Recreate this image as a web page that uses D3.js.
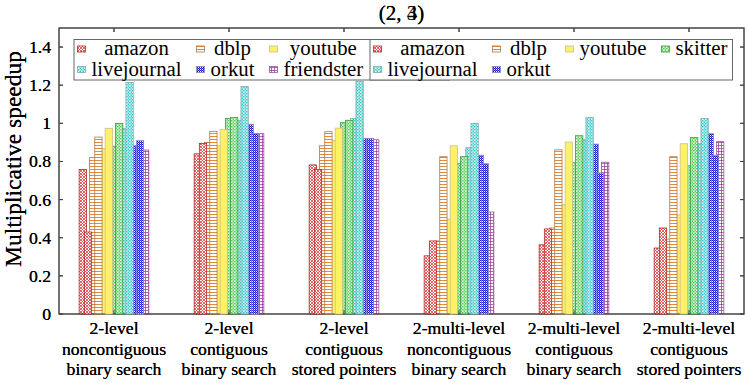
<html>
<head>
<meta charset="UTF-8" />
</head>
<body style="margin:0;background:#fff">
<script src="https://cdn.jsdelivr.net/npm/d3@7"></script>
<script>
var width = 747;
var height = 383;

// categories (one entry per group, split in lines)
var categories = [
	["2-level", "noncontiguous", "binary search"],
	["2-level", "contiguous", "binary search"],
	["2-level", "contiguous", "stored pointers"],
	["2-multi-level", "noncontiguous", "binary search"],
	["2-multi-level", "contiguous", "binary search"],
	["2-multi-level", "contiguous", "stored pointers"]
];
var yTicks = [0, 0.2, 0.4, 0.6, 0.8, 1, 1.2, 1.4];

// plot (2, 3)
var namesA = ["amazon", "dblp", "youtube", "skitter", "livejournal", "orkut", "friendster"];
var amazonA      = [0.758, 0.840, 0.782, 0.305, 0.363, 0.346];
var dblpA        = [0.820, 0.900, 0.882, 0.383, 0.451, 0.393];
var youtubeA     = [0.867, 0.882, 0.910, 0.497, 0.575, 0.519];
var skitterA     = [0.880, 1.025, 1.003, 0.788, 0.793, 0.777];
var livejournalA = [0.974, 1.016, 1.025, 0.872, 0.914, 0.893];
var orkutA       = [0.884, 0.995, 0.921, 0.833, 0.891, 0.946];
var friendsterA  = [0.860, 0.946, 0.914, 0.535, 0.796, 0.904];

// plot (2, 4)
var namesB = ["amazon", "dblp", "youtube", "skitter", "livejournal", "orkut"];
var amazonB      = [0.430, 0.895, 0.758, 0.383, 0.446, 0.451];
var dblpB        = [0.928, 0.958, 0.956, 0.825, 0.861, 0.825];
var youtubeB     = [0.974, 0.967, 0.975, 0.882, 0.902, 0.893];
var skitterB     = [1.000, 1.030, 1.016, 0.825, 0.935, 0.925];
var livejournalB = [1.214, 1.193, 1.221, 1.000, 1.030, 1.025];
var orkutB       = [0.909, 0.947, 0.921, 0.788, 0.740, 0.832];

var valuesA = [amazonA, dblpA, youtubeA, skitterA, livejournalA, orkutA, friendsterA];
var valuesB = [amazonB, dblpB, youtubeB, skitterB, livejournalB, orkutB];

// look of each data set
var styles = {
	amazon:      {pat: "cross",  color: "#e03c3c", edge: "#b02a2a"},
	dblp:        {pat: "hlines", color: "#e08a3a", edge: "#b8753c"},
	youtube:     {pat: "solid",  color: "#fff06a", edge: "#c8c08a"},
	skitter:     {pat: "dots",   color: "#55cc55", edge: "#3a9a3a"},
	livejournal: {pat: "dots",   color: "#33cccc", edge: "#80aab0"},
	orkut:       {pat: "dense",  color: "#1a1acc", edge: "#8a8aaa"},
	friendster:  {pat: "grid",   color: "#a040a0", edge: "#9a5a9a"}
};

var FONT = "Liberation Serif";
var plotL = 59, plotR = 744, plotT = 28, plotB = 314;

var svg = d3.select("body")
			.append("svg")
			.attr("width", width)
			.attr("height", height);

function label(g, txt, size){
	return g.append("text")
			.attr("font-family", FONT)
			.attr("font-size", size)
			.attr("fill", "#000")
			.text(txt);
}

var defs = svg.append("defs");
Object.keys(styles).forEach(function(name){
	var st = styles[name];
	var sz = st.pat == "dense" ? 2 : 3;
	var p = defs.append("pattern")
				.attr("id", "pat-" + name)
				.attr("patternUnits", "userSpaceOnUse")
				.attr("width", sz)
				.attr("height", sz);
	p.append("rect").attr("width", sz).attr("height", sz).attr("fill", st.pat == "solid" ? st.color : "#fff");
	if(st.pat == "cross"){
		p.append("path").attr("d", "M0,3L3,0M0,0L3,3").attr("stroke", st.color).attr("stroke-width", 0.8);
	} else if(st.pat == "hlines"){
		p.append("path").attr("d", "M0,1.5H3").attr("stroke", st.color).attr("stroke-width", 1);
	} else if(st.pat == "dots"){
		p.append("rect").attr("x", 0).attr("y", 0).attr("width", 1.5).attr("height", 1.5).attr("fill", st.color);
		p.append("rect").attr("x", 1.5).attr("y", 1.5).attr("width", 1.5).attr("height", 1.5).attr("fill", st.color);
		p.append("rect").attr("x", 1.5).attr("y", 0).attr("width", 1.5).attr("height", 1.5).attr("fill", st.color).attr("opacity", 0.45);
	} else if(st.pat == "dense"){
		p.append("rect").attr("x", 0).attr("y", 0).attr("width", 1).attr("height", 1).attr("fill", st.color);
		p.append("rect").attr("x", 1).attr("y", 1).attr("width", 1).attr("height", 1).attr("fill", st.color);
		p.append("rect").attr("x", 1).attr("y", 0).attr("width", 1).attr("height", 1).attr("fill", st.color).attr("opacity", 0.6);
	} else if(st.pat == "grid"){
		p.append("path").attr("d", "M1.5,0V3M0,1.5H3").attr("stroke", st.color).attr("stroke-width", 0.8);
	}
});

var x = d3.scalePoint()
		  .domain(d3.range(categories.length))
		  .range([114, 689]);

var y = d3.scaleLinear()
		  .domain([0, 1.5])
		  .range([plotB, plotT]);

var step = 10.4;     // distance between bars of one plot
var barW = 7.3;

function drawFrame(g){
	g.append("rect")
	 .attr("x", plotL).attr("y", plotT)
	 .attr("width", plotR - plotL).attr("height", plotB - plotT)
	 .attr("fill", "none").attr("stroke", "#444").attr("stroke-width", 1);
	yTicks.forEach(function(t){
		g.append("line").attr("x1", plotL).attr("x2", plotL + 4).attr("y1", y(t)).attr("y2", y(t)).attr("stroke", "#444");
		g.append("line").attr("x1", plotR).attr("x2", plotR - 4).attr("y1", y(t)).attr("y2", y(t)).attr("stroke", "#444");
	});
	categories.forEach(function(c, i){
		g.append("line").attr("x1", x(i)).attr("x2", x(i)).attr("y1", plotB).attr("y2", plotB - 4).attr("stroke", "#444");
		g.append("line").attr("x1", x(i)).attr("x2", x(i)).attr("y1", plotT).attr("y2", plotT + 4).attr("stroke", "#444");
	});
}

function drawBars(g, names, values){
	var n = names.length;
	names.forEach(function(name, s){
		var off = (s - (n - 1) / 2) * step;
		g.append("g")
		 .selectAll("rect")
		 .data(values[s])
		 .enter()
		 .append("rect")
		 .attr("x", (d, i) => x(i) + off - barW / 2)
		 .attr("width", barW)
		 .attr("y", d => y(d))
		 .attr("height", d => y(0) - y(d))
		 .attr("fill", "url(#pat-" + name + ")")
		 .attr("stroke", styles[name].edge)
		 .attr("stroke-width", 0.8);
	});
}

function drawLegend(g, x0, names){
	var y0 = 39.5, h = 40.5, rows = [49, 69.5], ncol = 4;
	var box = g.append("rect")
			   .attr("x", x0).attr("y", y0).attr("height", h)
			   .attr("fill", "#fff").attr("stroke", "#666").attr("stroke-width", 1);
	// measure each column's widest label
	var widths = [];
	var tmp = label(g, "", 20.8);
	names.forEach(function(nm, k){
		tmp.text(nm);
		var w = tmp.node().getComputedTextLength();
		var c = k % ncol;
		widths[c] = Math.max(widths[c] || 0, w);
	});
	tmp.remove();
	var cx = x0 + 3.5, starts = [];
	for(var c = 0; c < ncol; c++){
		starts.push(cx);
		cx += 14 + widths[c] + 15;
	}
	box.attr("width", cx - 15 + 5 - x0);
	names.forEach(function(nm, k){
		var c = k % ncol, r = Math.floor(k / ncol);
		g.append("rect")
		 .attr("x", starts[c]).attr("y", rows[r] - 3)
		 .attr("width", 8).attr("height", 6)
		 .attr("fill", "url(#pat-" + nm + ")")
		 .attr("stroke", styles[nm].edge).attr("stroke-width", 0.8);
		label(g, nm, 20.8)
		 .attr("x", starts[c] + 14 + widths[c] / 2)
		 .attr("y", rows[r] + 6)
		 .attr("text-anchor", "middle");
	});
}

function drawLabels(g, title){
	label(g, title, 21)
	 .attr("x", (plotL + plotR) / 2).attr("y", 20)
	 .attr("text-anchor", "middle");
	yTicks.forEach(function(t){
		label(g, d3.format("~g")(t), 17.7)
		 .attr("x", 51).attr("y", y(t) + 6)
		 .attr("text-anchor", "end");
	});
	categories.forEach(function(lines, i){
		lines.forEach(function(l, j){
			label(g, l, 17.7)
			 .attr("x", x(i)).attr("y", 334 + j * 20.5)
			 .attr("text-anchor", "middle");
		});
	});
	label(g, "Multiplicative speedup", 23.5)
	 .attr("transform", "translate(21,159) rotate(-90)")
	 .attr("text-anchor", "middle");
}

// first plot, then the second one drawn on top of it
var gA = svg.append("g");
drawFrame(gA);
drawBars(gA, namesA, valuesA);
drawLegend(gA, 74, namesA);
drawLabels(gA, "(2, 3)");

var gB = svg.append("g");
drawFrame(gB);
drawBars(gB, namesB, valuesB);
drawLegend(gB, 370, namesB);
drawLabels(gB, "(2, 4)");
</script>
</body>
</html>
